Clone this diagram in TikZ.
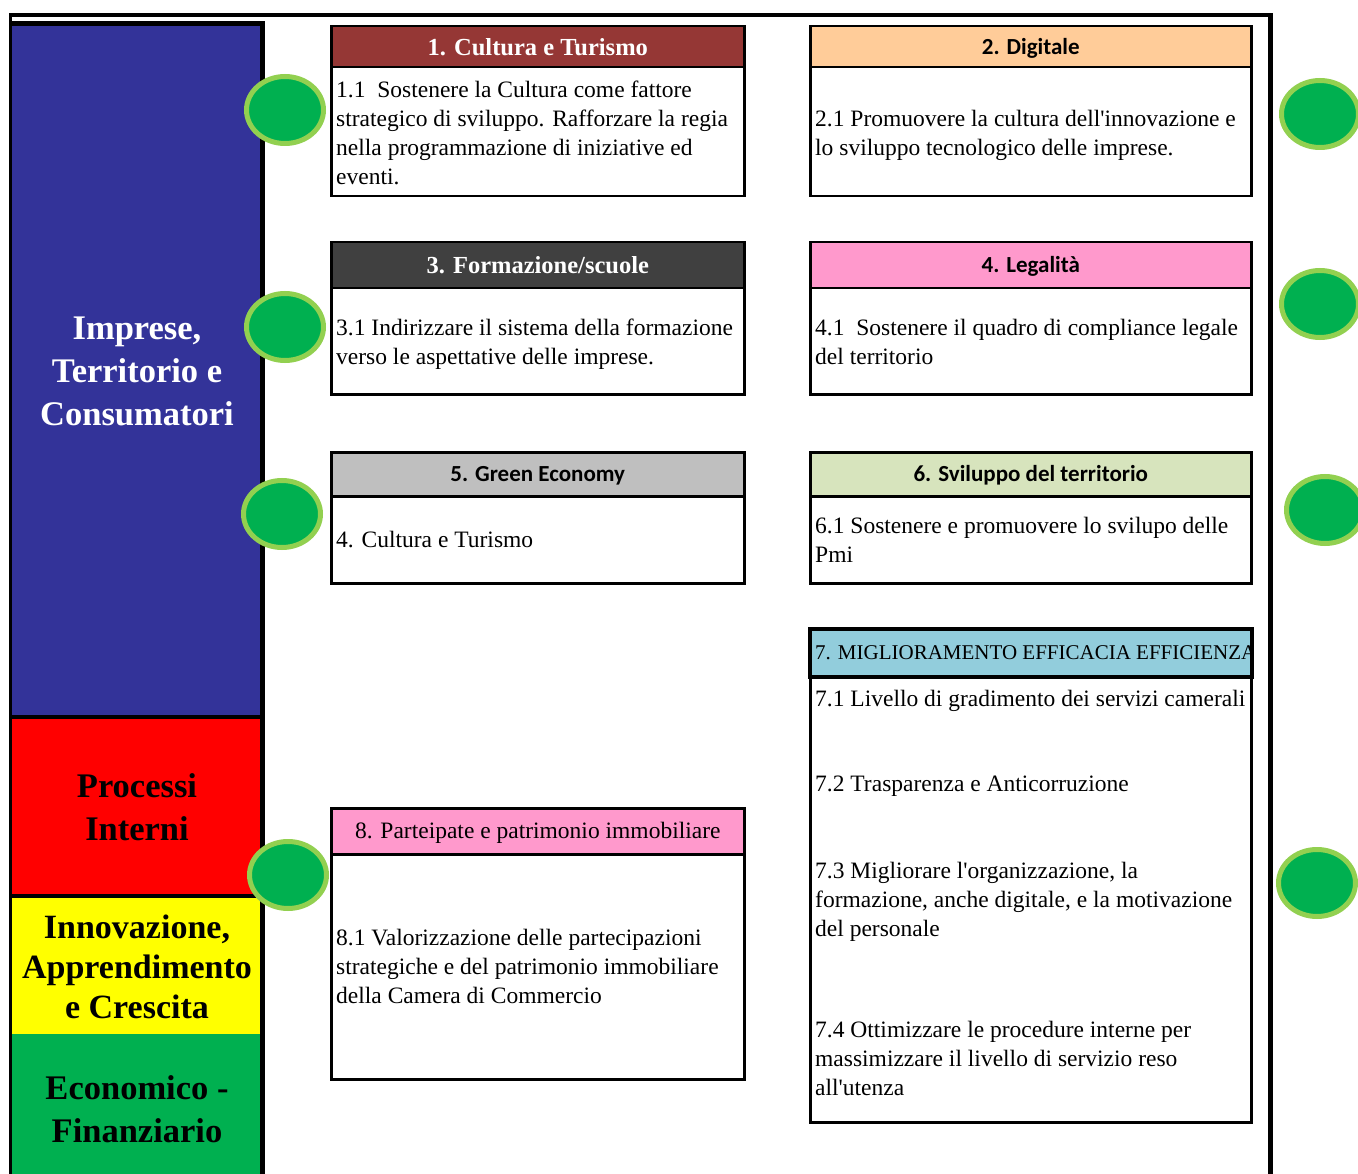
\documentclass[tikz,border=0pt]{standalone}
\usepackage{fontspec}
\setmainfont{Liberation Serif}
\newfontfamily\hsans{Carlito}
\usetikzlibrary{shapes.geometric}
\definecolor{colblue}{HTML}{333399}
\definecolor{colred}{HTML}{FF0000}
\definecolor{colyellow}{HTML}{FFFF00}
\definecolor{colgreen}{HTML}{00B050}
\definecolor{dotgreen}{HTML}{00B050}
\definecolor{dotrim}{HTML}{92D050}
\definecolor{hone}{HTML}{953735}
\definecolor{htwo}{HTML}{FFCC99}
\definecolor{hthree}{HTML}{404040}
\definecolor{hfour}{HTML}{FF99CC}
\definecolor{hfive}{HTML}{BFBFBF}
\definecolor{hsix}{HTML}{D7E4BD}
\definecolor{hseven}{HTML}{92CDDC}
\definecolor{height}{HTML}{FF99CC}
\begin{document}
\begin{tikzpicture}[x=1pt,y=-1pt,
  boxbody/.style={draw=black, line width=2.5pt, fill=white, inner sep=0pt, anchor=north west},
  boxhead/.style={draw=black, line width=2.5pt, inner sep=0pt, anchor=north west},
  bodytext/.style={anchor=west, align=left, inner sep=0pt, font=\fontsize{23.5}{29}\selectfont},
  headsans/.style={font=\hsans\bfseries\fontsize{23}{26}\selectfont, text height=15pt, text depth=0pt},
  headserif/.style={font=\bfseries\fontsize{24.5}{28}\selectfont},
  headplain/.style={font=\fontsize{23.5}{27}\selectfont, text height=15pt, text depth=0pt},
  dot/.style={ellipse, fill=dotgreen, draw=dotrim, line width=5pt, minimum width=77pt, minimum height=67pt, inner sep=0pt},
  collabel/.style={align=center, inner sep=0pt, font=\bfseries\fontsize{34.5}{43}\selectfont},
  band/.style={inner sep=0pt, anchor=north west}
]
\useasboundingbox (0,0) rectangle (1358,1174);
\clip (0,0) rectangle (1358,1174);

% frame
\fill[black] (9,13) rectangle (1273,17);
\fill[black] (9,13) rectangle (12,1174);
\fill[black] (1268,13) rectangle (1273,1174);

% left column
\fill[black] (9,21) rectangle (265,1174);
\node[band, fill=colblue, minimum width=248pt, minimum height=689pt] (pblue) at (12,26) {};
\node[band, fill=colred, minimum width=248pt, minimum height=175pt] (pred) at (12,719) {};
\node[band, fill=colyellow, minimum width=248pt, minimum height=136pt] (pyellow) at (12,898) {};
\node[band, fill=colgreen, minimum width=248pt, minimum height=140pt] (pgreen) at (12,1034) {};

\node[collabel, text=white] (lblue) at (137,371) {Imprese,\\Territorio e\\Consumatori};
\node[collabel, text=black] (lred) at (137,807) {Processi\\Interni};
\node[collabel, text=black, font=\bfseries\fontsize{34}{40}\selectfont] (lyellow) at (137,967) {Innovazione,\\Apprendimento\\e Crescita};
\node[collabel, text=black] (lgreen) at (137,1109) {Economico -\\Finanziario};

% box 1
\node[boxbody, minimum width=413pt, minimum height=129pt] (b1) at (330,66) {};
\node[boxhead, fill=hone, minimum width=413pt, minimum height=41pt, headserif, text=white] (h1) at (330,25) {1. Cultura e Turismo};
\node[bodytext] (t1) at (336,132.5) {1.1\ \ Sostenere la Cultura come fattore\\strategico di sviluppo. Rafforzare la regia\\nella programmazione di iniziative ed\\eventi.};

% box 2
\node[boxbody, minimum width=441pt, minimum height=129pt] (b2) at (809,66) {};
\node[boxhead, fill=htwo, minimum width=441pt, minimum height=41pt, headsans] (h2) at (809,25) {2. Digitale};
\node[bodytext] (t2) at (815,135.5) {2.1 Promuovere la cultura dell\textquotesingle innovazione e\\lo sviluppo tecnologico delle imprese.};

% box 3
\node[boxbody, minimum width=413pt, minimum height=106pt] (b3) at (330,287) {};
\node[boxhead, fill=hthree, minimum width=413pt, minimum height=46pt, headserif, text=white] (h3) at (330,241) {3. Formazione/scuole};
\node[bodytext] (t3) at (336,344.5) {3.1 Indirizzare il sistema della formazione\\verso le aspettative delle imprese.};

% box 4
\node[boxbody, minimum width=441pt, minimum height=106pt] (b4) at (809,287) {};
\node[boxhead, fill=hfour, minimum width=441pt, minimum height=46pt, headsans] (h4) at (809,241) {4. Legalità};
\node[bodytext] (t4) at (815,342) {4.1\ \ Sostenere il quadro di compliance legale\\del territorio};

% box 5
\node[boxbody, minimum width=413pt, minimum height=87pt] (b5) at (330,495) {};
\node[boxhead, fill=hfive, minimum width=413pt, minimum height=44pt, headsans] (h5) at (330,451) {5. Green Economy};
\node[bodytext] (t5) at (336,540) {4. Cultura e Turismo};

% box 6
\node[boxbody, minimum width=441pt, minimum height=87pt] (b6) at (809,495) {};
\node[boxhead, fill=hsix, minimum width=441pt, minimum height=44pt, headsans] (h6) at (809,451) {6. Sviluppo del territorio};
\node[bodytext] (t6) at (815,540) {6.1 Sostenere e promuovere lo svilupo delle\\Pmi};

% box 7
\node[boxbody, minimum width=441pt, minimum height=446pt] (b7) at (809,675) {};
\node[boxhead, fill=hseven, minimum width=441pt, minimum height=47pt] (h7) at (809,628) {};
\begin{scope}
\clip (809,628) rectangle (1250,675);
\node[font=\fontsize{21}{26}\selectfont, anchor=west, inner sep=0pt, text height=14pt, text depth=0pt] (h7t) at (815,652) {7. MIGLIORAMENTO EFFICACIA EFFICIENZA};
\end{scope}
\draw[line width=2.5pt] (h7.north west) rectangle (h7.south east);
\node[bodytext] (t71) at (815,701) {7.1 Livello di gradimento dei servizi camerali};
\node[bodytext] (t72) at (815,786) {7.2 Trasparenza e Anticorruzione};
\node[bodytext] (t73) at (815,902) {7.3 Migliorare l\textquotesingle organizzazione, la\\formazione, anche digitale, e la motivazione\\del personale};
\node[bodytext] (t74) at (815,1058) {7.4 Ottimizzare le procedure interne per\\massimizzare il livello di servizio reso\\all\textquotesingle utenza};

% box 8
\node[boxbody, minimum width=413pt, minimum height=225pt] (b8) at (330,853) {};
\node[boxhead, fill=height, minimum width=413pt, minimum height=46pt, headplain] (h8) at (330,807) {8. Parteipate e patrimonio immobiliare};
\node[bodytext] (t8) at (336,966) {8.1 Valorizzazione delle partecipazioni\\strategiche e del patrimonio immobiliare\\della Camera di Commercio};

% dots
\node[dot] (d1) at (285,110) {};
\node[dot] (d3) at (285,327) {};
\node[dot] (d5) at (282,514) {};
\node[dot] (d8) at (288,875) {};
\node[dot] (d2) at (1320,114) {};
\node[dot] (d4) at (1320,304) {};
\node[dot] (d6) at (1325,510) {};
\node[dot] (d7) at (1317,883) {};
\end{tikzpicture}
\end{document}
